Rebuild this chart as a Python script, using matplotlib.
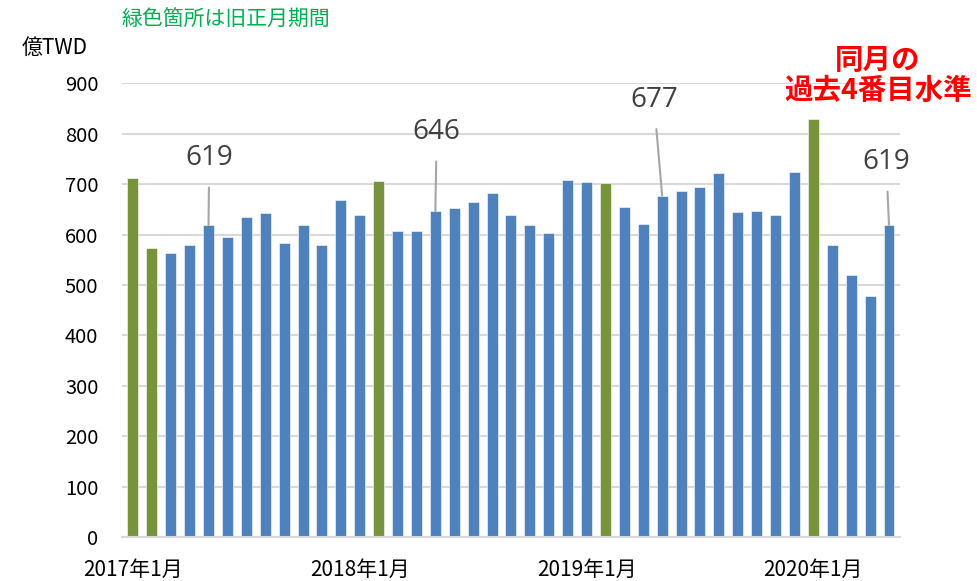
import matplotlib
matplotlib.use("Agg")
import matplotlib.pyplot as plt
import numpy as np

plt.rcParams['font.family'] = ['Noto Sans CJK JP', 'DejaVu Sans']

# monthly values, Jan 2017 - May 2020 (億TWD)
months = [f"{y}年{m}月" for y in range(2017, 2021) for m in range(1, 13)][:41]
values = [713, 574, 563, 580, 619, 596, 634, 642, 584, 618, 580, 668,
          638, 707, 607, 607, 646, 652, 664, 682, 639, 619, 603, 708,
          705, 703, 655, 620, 677, 686, 694, 722, 645, 646, 638, 724,
          829, 580, 520, 478, 619]
# lunar new year months
cny = ["2017年1月", "2017年2月", "2018年2月", "2019年2月", "2020年1月"]
tick_months = ["2017年1月", "2018年1月", "2019年1月", "2020年1月"]
# labelled bars: month -> (dx, dy) offset of label in points
labelled = {"2017年5月": (0.5, 48), "2018年5月": (1, 57),
            "2019年5月": (-6, 69), "2020年5月": (-2, 45)}

BLUE = "#4F81BD"
GREEN = "#77933C"

fig = plt.figure(figsize=(9.78, 5.81), dpi=100)
ax = fig.add_axes([0.1247, 0.0757, 0.7955, 0.781])

x = np.arange(len(months))
colors = [GREEN if m in cny else BLUE for m in months]
ax.bar(x, values, width=0.58, color=colors, edgecolor="white", linewidth=0.4, zorder=3)

ax.set_xlim(-0.58, len(months) - 0.42)
ax.set_ylim(0, 900)
ax.set_yticks(range(0, 901, 100))
ax.yaxis.grid(True, color="#D9D9D9", linewidth=1.5, zorder=0)
ax.set_xticks([months.index(m) for m in tick_months])
ax.set_xticklabels(tick_months)
ax.tick_params(axis="y", length=0, pad=17, labelsize=14.5)
ax.tick_params(axis="x", length=0, pad=16, labelsize=15)
for s in ["left", "right", "top"]:
    ax.spines[s].set_visible(False)
ax.spines["bottom"].set_color("#D9D9D9")
ax.spines["bottom"].set_linewidth(1.5)
ax.spines["bottom"].set_zorder(4)

for m, (dx, dy) in labelled.items():
    i = months.index(m)
    ax.annotate(f"{values[i]}", xy=(i, values[i]), xytext=(dx, dy),
                textcoords="offset points", ha="center", va="center",
                fontsize=20, color="#404040", family=["Open Sans", "DejaVu Sans"],
                arrowprops=dict(arrowstyle="-", color="#A6A6A6", lw=1.5,
                                shrinkA=9, shrinkB=0), zorder=5)

fig.text(22 / 978, 1 - 48 / 581, "億TWD", fontsize=15, ha="left", va="center")
fig.text(122 / 978, 1 - 20 / 581, "緑色箇所は旧正月期間", fontsize=15,
         color="#00B050", ha="left", va="center")
fig.text(878 / 978, 1 - 76 / 581, "同月の\n過去4番目水準", fontsize=20.5,
         color="#FF0000", fontweight="bold", ha="center", va="center",
         linespacing=1.1)

fig.savefig("out.png", dpi=100)
